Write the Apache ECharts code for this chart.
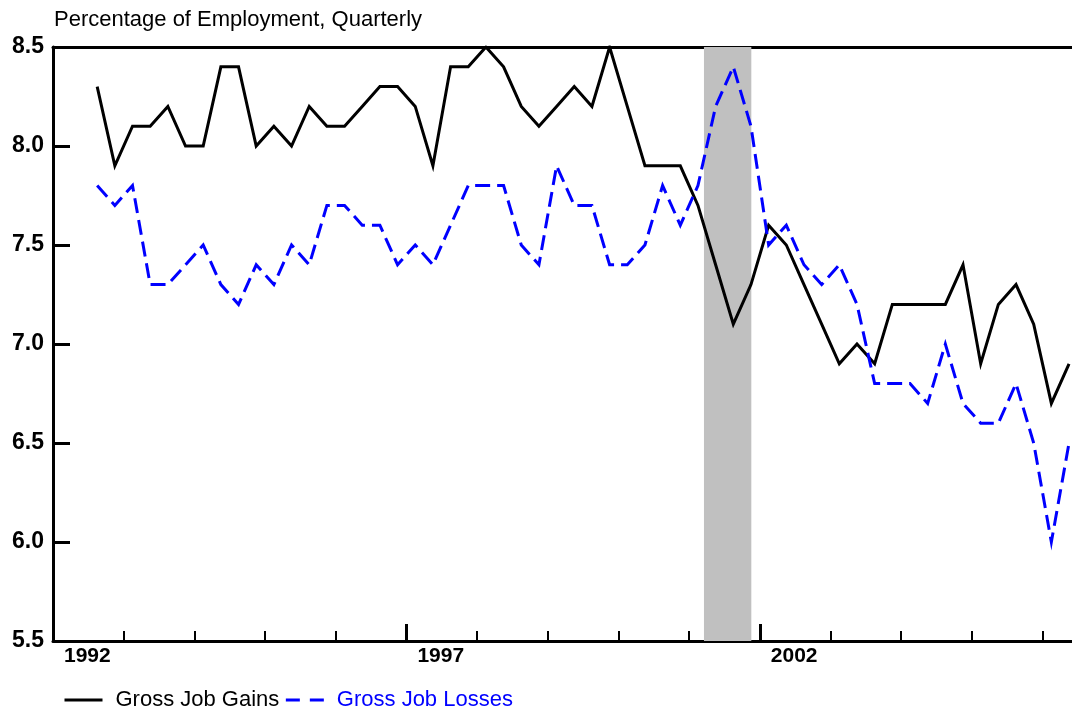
<!DOCTYPE html>
<html><head><meta charset="utf-8">
<script src="https://cdn.jsdelivr.net/npm/echarts/dist/echarts.min.js"></script>
<style>html,body{margin:0;padding:0;background:#fff}#c{width:1072px;height:709px}</style>
</head><body><div id="c"></div>
<script>
// Quarterly series, first observation 1992 Q3
const startYear = 1992;
const startQuarter = 3;
const gains = [8.3,7.9,8.1,8.1,8.2,8.0,8.0,8.4,8.4,8.0,8.1,8.0,8.2,8.1,8.1,8.2,8.3,8.3,8.2,7.9,
  8.4,8.4,8.5,8.4,8.2,8.1,8.2,8.3,8.2,8.5,8.2,7.9,7.9,7.9,7.7,7.4,7.1,7.3,7.6,7.5,
  7.3,7.1,6.9,7.0,6.9,7.2,7.2,7.2,7.2,7.4,6.9,7.2,7.3,7.1,6.7,6.9];
const losses = [7.8,7.7,7.8,7.3,7.3,7.4,7.5,7.3,7.2,7.4,7.3,7.5,7.4,7.7,7.7,7.6,7.6,7.4,7.5,7.4,
  7.6,7.8,7.8,7.8,7.5,7.4,7.9,7.7,7.7,7.4,7.4,7.5,7.8,7.6,7.8,8.2,8.4,8.1,7.5,7.6,
  7.4,7.3,7.4,7.2,6.8,6.8,6.8,6.7,7.0,6.7,6.6,6.6,6.8,6.5,6.0,6.5];
const xLabelYears = [1992, 1997, 2002];
const recession = [2001.21, 2001.88];
const seriesNames = ['Gross Job Gains', 'Gross Job Losses'];
const titleText = 'Percentage of Employment, Quarterly';

// convert quarter index to decimal-year position (mid-quarter)
const qx = i => startYear + (startQuarter - 1 + i) / 4 + 0.125;

const chart = echarts.init(document.getElementById('c'), null, {renderer: 'canvas'});
const xMin = 1992, xMax = 2006.7;
const axisFont = 'Liberation Sans, Arial, sans-serif';
chart.setOption({
  animation: false,
  backgroundColor: '#fff',
  title: {
    text: titleText, left: 54, top: 9, padding: 0,
    textStyle: {fontFamily: axisFont, fontSize: 22, fontWeight: 'normal', color: '#000'}
  },
  legend: {
    left: 63, top: 689, padding: 0, itemWidth: 38, itemHeight: 14, itemGap: 5,
    itemStyle: {opacity: 0},
    textStyle: {fontFamily: axisFont, fontSize: 22, color: '#000', padding: [0, 0, 0, 8]},
    data: [
      {name: seriesNames[0], textStyle: {color: '#000'}, itemStyle: {opacity: 0},
       lineStyle: {color: '#000', width: 3, type: 'solid'}},
      {name: seriesNames[1], textStyle: {color: '#0000FF'}, itemStyle: {opacity: 0},
       lineStyle: {color: '#0000FF', width: 3, type: [14, 10]}}
    ]
  },
  grid: {left: 53, right: -20, top: 47, bottom: 68, outerBoundsMode: 'none', containLabel: false},
  xAxis: [
    {
      type: 'value', min: xMin, max: xMax, interval: 1, position: 'bottom',
      axisLine: {show: true, lineStyle: {color: '#000', width: 3}},
      axisTick: {show: true, inside: true, length: 10, lineStyle: {color: '#000', width: 2}},
      splitLine: {show: false},
      axisLabel: {
        show: true, align: 'left', margin: 5, padding: [0, 0, 0, 11],
        fontFamily: axisFont, fontSize: 21, fontWeight: 'bold', color: '#000',
        showMaxLabel: false, hideOverlap: false,
        formatter: v => (Math.abs(v - Math.round(v)) < 1e-6 && xLabelYears.includes(Math.round(v))) ? String(Math.round(v)) : ''
      }
    },
    {
      type: 'value', min: xMin, max: xMax, interval: 5, position: 'bottom', offset: 0,
      axisLine: {show: false},
      axisTick: {show: true, inside: true, length: 17, lineStyle: {color: '#000', width: 3}},
      axisLabel: {show: false}, splitLine: {show: false}
    },
    {
      type: 'value', min: xMin, max: xMax, position: 'top',
      axisLine: {show: true, lineStyle: {color: '#000', width: 3}},
      axisTick: {show: false}, axisLabel: {show: false}, splitLine: {show: false}
    }
  ],
  yAxis: {
    type: 'value', min: 5.5, max: 8.5, interval: 0.5,
    axisLine: {show: true, lineStyle: {color: '#000', width: 3}},
    axisTick: {show: true, inside: true, length: 17, lineStyle: {color: '#000', width: 3}},
    splitLine: {show: false},
    axisLabel: {
      margin: 9, fontFamily: axisFont, fontSize: 23, fontWeight: 'bold', color: '#000',
      formatter: v => v.toFixed(1)
    }
  },
  series: [
    {
      name: seriesNames[0], type: 'line', xAxisIndex: 0, symbol: 'none',
      data: gains.map((v, i) => [qx(i), v]),
      lineStyle: {color: '#000', width: 3, join: 'miter'},
      itemStyle: {color: '#000'},
      z: 3,
      markArea: {
        silent: true,
        itemStyle: {color: '#C0C0C0'},
        data: [[{xAxis: recession[0]}, {xAxis: recession[1]}]]
      }
    },
    {
      name: seriesNames[1], type: 'line', xAxisIndex: 0, symbol: 'none',
      data: losses.map((v, i) => [qx(i), v]),
      lineStyle: {color: '#0000FF', width: 3, type: [15, 7], join: 'miter'},
      itemStyle: {color: '#0000FF'},
      z: 4
    }
  ]
});
</script>
</body></html>
